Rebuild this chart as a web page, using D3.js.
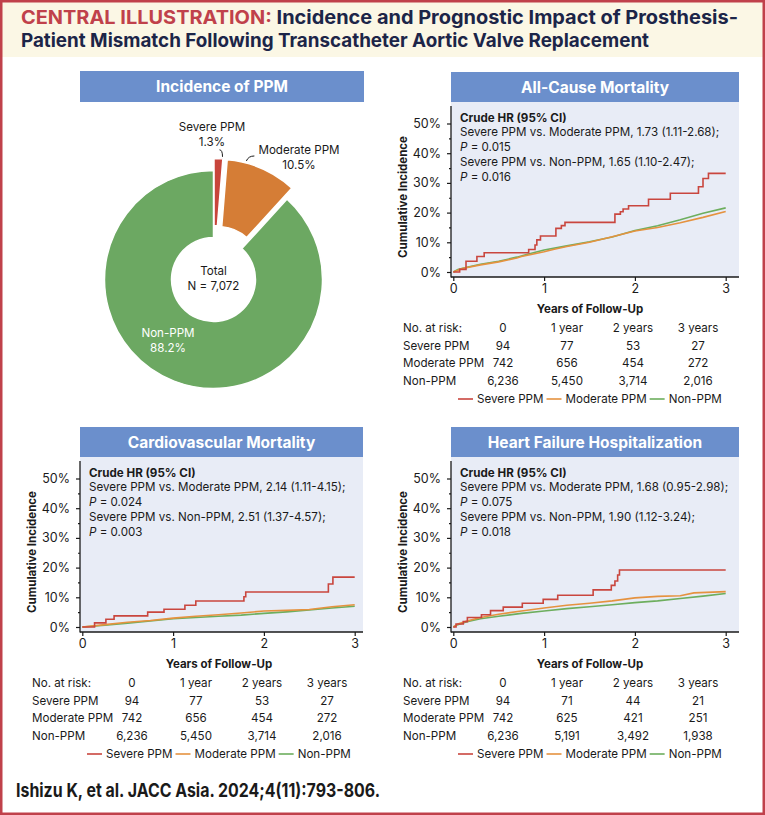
<!DOCTYPE html>
<html>
<head>
<meta charset="utf-8">
<script src="https://cdn.jsdelivr.net/npm/d3@7"></script>
<style>
  body { margin: 0; background: #fff; }
  svg { display: block; font-family: Inter, "Open Sans", sans-serif; }
</style>
</head>
<body>
<svg id="chart" width="765" height="815"></svg>
<script>
// ---- data ----
const groups = ["Severe PPM", "Moderate PPM", "Non-PPM"];
const incidence = [1.3, 10.5, 88.2];
const totalN = 7072;

const yTicks = [0, 10, 20, 30, 40, 50];
const yMinor = [5, 15, 25, 35, 45];
const xTicks = [0, 1, 2, 3];
const riskHeaders = ["0", "1 year", "2 years", "3 years"];

// all-cause mortality, [years, %]
const acmSevere = [[0,0],[0.07,0.9],[0.14,3.6],[0.26,5.2],[0.34,6.5],[0.83,7.6],[0.90,9.1],[0.92,10.8],[0.96,12.1],[1.13,14.7],[1.19,15.6],[1.23,16.7],[1.78,19.5],[1.84,20.3],[1.87,21.2],[1.93,22.3],[2.15,24.5],[2.39,26.5],[2.70,28.7],[2.75,31.5],[2.81,33.2],[3.0,33.2]];
const acmModerate = [[0,0],[0.1,1.2],[0.3,2.4],[0.5,3.4],[0.7,4.7],[0.75,5.2],[1.0,6.8],[1.1,7.6],[1.25,8.6],[1.5,10.0],[1.75,11.9],[2.0,13.8],[2.25,15.0],[2.5,16.6],[2.75,18.4],[3.0,20.4]];
const acmNon = [[0,0],[0.05,0.8],[0.15,1.6],[0.3,2.6],[0.5,3.6],[0.7,5.0],[0.85,6.2],[1.0,7.4],[1.25,8.8],[1.5,10.2],[1.75,11.8],[2.0,14.0],[2.25,15.6],[2.5,17.6],[2.75,19.8],[3.0,21.6]];
const acmRisk = [[94, 77, 53, 27], [742, 656, 454, 272], [6236, 5450, 3714, 2016]];
const acmHR = ["Severe PPM vs. Moderate PPM, 1.73 (1.11-2.68);", "0.015", "Severe PPM vs. Non-PPM, 1.65 (1.10-2.47);", "0.016"];

// cardiovascular mortality
const cvmSevere = [[0,0],[0.135,1.4],[0.26,2.6],[0.35,3.75],[0.72,5.0],[0.90,6.0],[1.13,7.3],[1.25,8.75],[1.78,10.2],[1.80,11.8],[2.71,14.5],[2.76,16.8],[3.0,16.8]];
const cvmModerate = [[0,0],[0.25,0.8],[0.5,1.6],[0.75,2.2],[1.0,3.0],[1.25,3.6],[1.5,4.1],[1.75,4.7],[2.0,5.4],[2.25,5.6],[2.5,5.9],[2.75,6.8],[3.0,7.5]];
const cvmNon = [[0,0],[0.25,0.6],[0.5,1.3],[0.75,2.0],[1.0,2.8],[1.25,3.2],[1.5,3.6],[1.75,4.0],[2.0,4.6],[2.25,5.1],[2.5,5.7],[2.75,6.4],[3.0,7.0]];
const cvmRisk = [[94, 77, 53, 27], [742, 656, 454, 272], [6236, 5450, 3714, 2016]];
const cvmHR = ["Severe PPM vs. Moderate PPM, 2.14 (1.11-4.15);", "0.024", "Severe PPM vs. Non-PPM, 2.51 (1.37-4.57);", "0.003"];

// heart failure hospitalization
const hfhSevere = [[0,0],[0.03,1.0],[0.11,1.8],[0.155,3.2],[0.31,4.1],[0.41,5.5],[0.55,6.7],[0.76,8.0],[0.99,9.3],[1.15,10.7],[1.54,12.5],[1.74,14.0],[1.78,15.5],[1.81,17.5],[1.83,19.2],[3.0,19.2]];
const hfhModerate = [[0,0],[0.05,1.0],[0.15,2.0],[0.3,3.2],[0.5,4.3],[0.75,5.4],[1.0,6.4],[1.25,7.3],[1.5,8.0],[1.75,8.8],[2.0,9.8],[2.25,10.3],[2.5,10.5],[2.65,11.5],[3.0,11.9]];
const hfhNon = [[0,0],[0.05,0.8],[0.15,1.8],[0.3,2.8],[0.5,3.6],[0.75,4.6],[1.0,5.4],[1.25,6.2],[1.5,6.8],[1.75,7.5],[2.0,8.2],[2.25,8.8],[2.5,9.6],[2.75,10.4],[3.0,11.3]];
const hfhRisk = [[94, 71, 44, 21], [742, 625, 421, 251], [6236, 5191, 3492, 1938]];
const hfhHR = ["Severe PPM vs. Moderate PPM, 1.68 (0.95-2.98);", "0.075", "Severe PPM vs. Non-PPM, 1.90 (1.12-3.24);", "0.018"];

// ---- styles ----
const lineColors = ["#c9463e", "#e5923f", "#6dae5e"];
const pieColors = ["#c8453b", "#d57d36", "#6ca862"];
const red = "#c0414b", navy = "#1c2548", barBlue = "#6b8fcc", plotBg = "#e8ecf6", ink = "#1a1a1a";
const bodySize = 11.6;

const svg = d3.select("#chart");

// header
svg.append("rect").attr("x", 0).attr("y", 0).attr("width", 765).attr("height", 57).attr("fill", "#fbf7e5");
const h1 = svg.append("text").attr("x", 21).attr("y", 24)
  .attr("font-size", 19).attr("font-weight", 700)
  .attr("textLength", 717).attr("lengthAdjust", "spacingAndGlyphs");
h1.append("tspan").attr("fill", red).text("CENTRAL ILLUSTRATION:");
h1.append("tspan").attr("fill", navy).text(" Incidence and Prognostic Impact of Prosthesis-");
svg.append("text").attr("x", 21).attr("y", 47)
  .attr("font-size", 19).attr("font-weight", 700).attr("fill", navy)
  .attr("textLength", 628).attr("lengthAdjust", "spacingAndGlyphs")
  .text("Patient Mismatch Following Transcatheter Aortic Valve Replacement");

// footer
svg.append("text").attr("x", 16).attr("y", 797)
  .attr("font-size", 19).attr("font-weight", 700).attr("fill", ink)
  .attr("textLength", 364).attr("lengthAdjust", "spacingAndGlyphs")
  .text("Ishizu K, et al. JACC Asia. 2024;4(11):793-806.");

// ---- pie ----
svg.append("rect").attr("x", 80).attr("y", 71).attr("width", 284).attr("height", 31).attr("fill", barBlue);
svg.append("text").attr("x", 222).attr("y", 92).attr("text-anchor", "middle")
  .attr("font-size", 15.5).attr("font-weight", 700).attr("fill", "#fff").text("Incidence of PPM");

const pieG = svg.append("g").attr("transform", "translate(213.5,279.5)");
const pieArcs = d3.pie().sort(null).value(d => d)(incidence);
const arc = d3.arc().innerRadius(42).outerRadius(109);
const explode = [12, 12, 0];
pieG.selectAll("path.slice").data(pieArcs).join("path")
  .attr("class", "slice")
  .attr("d", arc)
  .attr("fill", (d, i) => pieColors[i])
  .attr("stroke", "#fff").attr("stroke-width", 1.5)
  .attr("transform", (d, i) => {
    const a = (d.startAngle + d.endAngle) / 2;
    return `translate(${explode[i] * Math.sin(a)},${-explode[i] * Math.cos(a)})`;
  });

function pieLabel(x, y1, name, pct, color) {
  const t = svg.append("text").attr("text-anchor", "middle").attr("font-size", bodySize).attr("fill", color);
  t.append("tspan").attr("x", x).attr("y", y1).text(name);
  t.append("tspan").attr("x", x).attr("y", y1 + 14.5).text(pct);
}
pieLabel(212, 131, groups[0], incidence[0] + "%", ink);
pieLabel(299, 154, groups[1], incidence[1] + "%", ink);
pieLabel(168, 337, groups[2], incidence[2] + "%", "#fff");
pieLabel(213.5, 275, "Total", "N = " + d3.format(",")(totalN), ink);

// leader lines
function edgePoint(angleDeg, r) {
  const a = angleDeg * Math.PI / 180;
  return [213.5 + r * Math.sin(a), 279.5 - r * Math.cos(a)];
}
const sp = edgePoint(4.2, 123);
svg.append("path").attr("fill", "none").attr("stroke", ink).attr("stroke-width", 1)
  .attr("d", `M${sp[0] - 3},${sp[1] - 7} Q${sp[0]},${sp[1] - 7} ${sp[0]},${sp[1]}`);
const mp = edgePoint(15.5, 123);
svg.append("path").attr("fill", "none").attr("stroke", ink).attr("stroke-width", 1)
  .attr("d", `M${mp[0]},${mp[1]} Q${mp[0] + 2},${mp[1] - 5} ${mp[0] + 8},${mp[1] - 5}`);

// ---- Kaplan-Meier panels ----
const fmt = d3.format(",");

function kmPanel(cfg) {
  const g = svg.append("g").attr("transform", `translate(${cfg.ox},${cfg.oy})`);
  const left = 451, top = 72, barH = 30, axisY = 277;
  const x = d3.scaleLinear().domain([0, 3]).range([453.3, 725.7]);
  const y = d3.scaleLinear().domain([0, 50]).range([272, 123.5]);

  g.append("rect").attr("x", left).attr("y", top).attr("width", cfg.w).attr("height", barH).attr("fill", barBlue);
  g.append("text").attr("x", left + cfg.w / 2).attr("y", top + 20.5).attr("text-anchor", "middle")
    .attr("font-size", 15.5).attr("font-weight", 700).attr("fill", "#fff").text(cfg.title);
  g.append("rect").attr("x", left).attr("y", top + barH).attr("width", cfg.w).attr("height", axisY - top - barH).attr("fill", plotBg);

  // curves
  const lineStep = d3.line().x(d => x(d[0])).y(d => y(d[1])).curve(d3.curveStepAfter);
  const lineLin = d3.line().x(d => x(d[0])).y(d => y(d[1]));
  [2, 1, 0].forEach(i => {
    g.append("path").datum(cfg.series[i])
      .attr("fill", "none").attr("stroke", lineColors[i]).attr("stroke-width", 1.6)
      .attr("d", i === 0 ? lineStep : lineLin);
  });

  // axes
  const yAx = g.append("g").attr("transform", `translate(${left},0)`)
    .call(d3.axisLeft(y).tickValues(yTicks).tickSize(4).tickPadding(6).tickFormat(d => d + "%"));
  const yMin = g.append("g").attr("transform", `translate(${left},0)`)
    .call(d3.axisLeft(y).tickValues(yMinor).tickSize(2).tickFormat(""));
  const xAx = g.append("g").attr("transform", `translate(0,${axisY})`)
    .call(d3.axisBottom(x).tickValues(xTicks).tickSize(4).tickPadding(3).tickFormat(d3.format("d")));
  [yAx, yMin, xAx].forEach(a => {
    a.select(".domain").remove();
    a.selectAll("line").attr("stroke", ink).attr("stroke-width", 1.2);
    a.selectAll("text").attr("font-size", 12.5).attr("fill", ink).attr("font-family", "Inter, sans-serif");
  });
  g.append("line").attr("x1", left).attr("x2", left).attr("y1", 106).attr("y2", axisY + 0.6)
    .attr("stroke", ink).attr("stroke-width", 1.3);
  g.append("line").attr("x1", left).attr("x2", left + cfg.w).attr("y1", axisY).attr("y2", axisY)
    .attr("stroke", ink).attr("stroke-width", 1.3);

  g.append("text").attr("transform", "translate(407,197) rotate(-90)").attr("text-anchor", "middle")
    .attr("font-size", 11.5).attr("font-weight", 700).attr("fill", ink).text("Cumulative Incidence");
  g.append("text").attr("x", 590).attr("y", 313).attr("text-anchor", "middle")
    .attr("font-size", 11.5).attr("font-weight", 700).attr("fill", ink).text("Years of Follow-Up");

  // HR annotation
  const ann = g.append("g").attr("font-size", bodySize).attr("fill", ink);
  const ys = [121.7, 136.4, 151.1, 165.8, 180.5];
  ann.append("text").attr("x", 460).attr("y", ys[0]).attr("font-weight", 700).text("Crude HR (95% CI)");
  [0, 2].forEach((k, j) => {
    ann.append("text").attr("x", 460).attr("y", ys[1 + 2 * j]).text(cfg.hr[k]);
    const p = ann.append("text").attr("x", 460).attr("y", ys[2 + 2 * j]);
    p.append("tspan").attr("font-style", "italic").text("P");
    p.append("tspan").text(" = " + cfg.hr[k + 1]);
  });

  // number at risk
  const cols = [503, 567, 633, 698];
  const rows = [331.7, 349.5, 367, 384.6];
  const tb = g.append("g").attr("font-size", bodySize).attr("fill", ink);
  tb.append("text").attr("x", 403).attr("y", rows[0]).text("No. at risk:");
  riskHeaders.forEach((h, c) => tb.append("text").attr("x", cols[c]).attr("y", rows[0]).attr("text-anchor", "middle").text(h));
  cfg.risk.forEach((r, i) => {
    tb.append("text").attr("x", 403).attr("y", rows[i + 1]).text(groups[i]);
    r.forEach((v, c) => tb.append("text").attr("x", cols[c]).attr("y", rows[i + 1]).attr("text-anchor", "middle").text(fmt(v)));
  });

  // legend: sample line then label, packed left to right
  let lx = 458;
  groups.forEach((name, i) => {
    tb.append("line").attr("x1", lx).attr("x2", lx + 15).attr("y1", 399).attr("y2", 399)
      .attr("stroke", lineColors[i]).attr("stroke-width", 1.6);
    const t = tb.append("text").attr("x", lx + 19).attr("y", 403).text(name);
    lx += 19 + t.node().getComputedTextLength() + 3;
  });
}

kmPanel({ ox: 0, oy: 0, w: 288, title: "All-Cause Mortality", series: [acmSevere, acmModerate, acmNon], risk: acmRisk, hr: acmHR });
kmPanel({ ox: -371, oy: 355, w: 283, title: "Cardiovascular Mortality", series: [cvmSevere, cvmModerate, cvmNon], risk: cvmRisk, hr: cvmHR });
kmPanel({ ox: 0, oy: 355, w: 288, title: "Heart Failure Hospitalization", series: [hfhSevere, hfhModerate, hfhNon], risk: hfhRisk, hr: hfhHR });

// border
svg.append("rect").attr("x", 1.25).attr("y", 1.25).attr("width", 762.5).attr("height", 812.5)
  .attr("fill", "none").attr("stroke", red).attr("stroke-width", 2.5);
</script>
</body>
</html>
